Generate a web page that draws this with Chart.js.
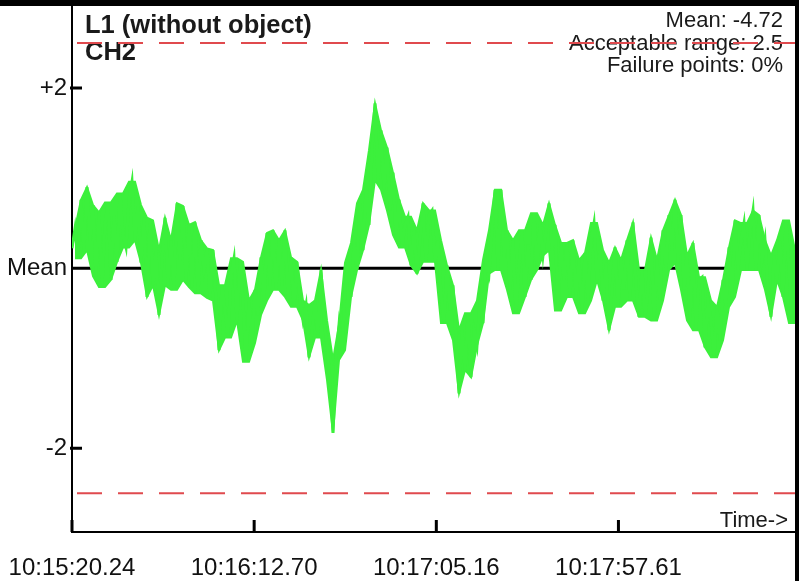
<!DOCTYPE html>
<html lang="en">

<head>
    <meta charset="UTF-8">
    <title>L1 (without object) CH2</title>
    <script src="https://cdn.jsdelivr.net/npm/chart.js"></script>
    <style>
        body { margin: 0; background: #000; width: 799px; height: 581px; overflow: hidden; }
        #wrap { position: absolute; left: 0; top: 6px; width: 795px; height: 575px; background: #fff; }
    </style>
</head>

<body>
    <div id="wrap">
        <canvas id="trendChart" width="795" height="575"></canvas>
    </div>

    <script>
        // x axis ticks (seconds from start) and their clock labels
        const timeTicks = [0, 52.46, 104.92, 157.37];
        const timeLabels = ['10:15:20.24', '10:16:12.70', '10:17:05.16', '10:17:57.61'];
        const sampleStep = 0.864;    // seconds between plotted samples
        const envelopeStart = 0.864; // first envelope sample
        const envelopeStep = 1.728;  // seconds between envelope samples
        const timeMax = 208.22;

        // y axis, deviation from mean
        const yTicks = [2, 0, -2];
        const yTickLabels = ['+2', 'Mean', '-2'];
        const meanLevel = 0;
        const upperLimit = 2.5;
        const lowerLimit = -2.5;

        const titleLines = ['L1 (without object)', 'CH2'];
        const infoLines = ['Mean: -4.72', 'Acceptable range: 2.5', 'Failure points: 0%'];

        // CH2 deviation from mean
        const deviation = [
            0.22, 0.44, 0.11, 0.76, 0.20, 0.90, 0.31, 0.70, -0.09, 0.62,
            -0.21, 0.48, 0.73, -0.13, 0.59, 0.07, 0.83, 0.37, 0.23, 0.76,
            0.96, 0.31, 0.70, 0.06, 0.56, -0.32, 0.53, -0.19, 0.20, -0.52,
            0.09, 0.56, -0.19, 0.31, -0.24, 0.72, 0.07, 0.69, -0.13, 0.48,
            -0.21, 0.51, -0.28, 0.31, -0.02, 0.22, -0.33, 0.20, -0.36, -0.91,
            -0.19, -0.47, -0.77, -0.08, 0.11, -0.58, 0.07, -0.36, -1.04, -0.36,
            -0.83, -0.24, -0.52, 0.12, -0.36, 0.39, -0.19, 0.42, -0.24, 0.31,
            -0.19, 0.42, -0.32, 0.12, -0.43, 0.07, -0.36, -0.58, -0.41, -0.99,
            -0.69, -0.36, -0.77, -0.02, -0.58, -0.86, -1.24, -1.83, -1.02, -0.63,
            -0.91, -0.24, 0.06, -0.32, 0.28, -0.02, 0.72, 0.20, 0.87, 0.48,
            1.31, 1.83, 0.98, 1.53, 0.87, 1.34, 0.64, 1.06, 0.37, 0.76,
            0.23, 0.48, 0.57, 0.03, 0.42, -0.06, 0.31, 0.72, 0.07, 0.59,
            0.64, 0.07, 0.31, -0.30, -0.61, 0.03, -0.47, -0.19, -0.80, -1.39,
            -0.69, -1.13, -0.50, -1.21, -0.69, -0.86, -0.36, -0.61, 0.09, -0.06,
            0.42, 0.87, -0.02, 0.87, 0.12, 0.42, -0.24, 0.31, -0.50, 0.03,
            0.42, -0.32, 0.26, -0.13, 0.61, -0.02, 0.48, 0.14, 0.42, 0.72,
            0.20, 0.48, -0.47, 0.28, -0.13, 0.28, -0.32, 0.31, -0.32, 0.09,
            -0.50, 0.17, -0.36, 0.31, 0.50, -0.13, 0.20, -0.36, 0.06, -0.69,
            -0.24, 0.23, -0.43, 0.09, -0.24, 0.31, -0.36, 0.51, -0.19, -0.54,
            -0.02, -0.54, -0.24, 0.34, -0.58, 0.09, -0.36, 0.42, -0.02, 0.59,
            0.20, 0.76, 0.06, 0.59, -0.24, 0.14, -0.58, 0.28, -0.69, -0.13,
            -0.10, -0.88, -0.36, -0.58, -0.99, -0.43, -0.80, -0.13, -0.43, 0.23,
            -0.32, 0.53, -0.02, 0.31, 0.50, -0.02, 0.42, 0.64, -0.02, 0.59,
            0.09, 0.31, -0.24, -0.54, 0.14, -0.13, 0.31, -0.32, 0.53, -0.02,
            -0.61, 0.20
        ];

        // top and bottom edge of the noisy band
        const bandHigh = [
            0.44, 0.76, 0.90, 0.70, 0.62, 0.73, 0.73, 0.83, 0.83, 0.96,
            0.96, 0.70, 0.56, 0.53, 0.20, 0.56, 0.31, 0.72, 0.69, 0.48,
            0.51, 0.31, 0.22, 0.20, -0.19, -0.19, 0.11, 0.11, 0.07, -0.36,
            -0.24, 0.12, 0.39, 0.42, 0.31, 0.42, 0.12, 0.07, -0.36, -0.41,
            -0.36, -0.02, -0.58, -1.02, -0.63, 0.06, 0.28, 0.72, 0.87, 1.31,
            1.83, 1.53, 1.34, 1.06, 0.76, 0.57, 0.57, 0.42, 0.72, 0.64,
            0.64, 0.31, 0.03, -0.19, -0.69, -0.50, -0.50, -0.36, 0.09, 0.42,
            0.87, 0.87, 0.42, 0.31, 0.42, 0.42, 0.61, 0.61, 0.48, 0.72,
            0.48, 0.28, 0.28, 0.31, 0.09, 0.17, 0.50, 0.50, 0.20, 0.06,
            0.23, 0.09, 0.31, 0.51, -0.02, -0.02, 0.34, 0.09, 0.42, 0.59,
            0.76, 0.59, 0.14, 0.28, -0.10, -0.10, -0.36, -0.43, -0.13, 0.23,
            0.53, 0.50, 0.50, 0.64, 0.59, 0.31, 0.14, 0.31, 0.53, 0.53,
            0.20
        ];
        const bandLow = [
            0.11, 0.11, 0.20, -0.09, -0.21, -0.21, -0.13, 0.07, 0.23, 0.23,
            0.31, 0.06, -0.32, -0.19, -0.52, -0.19, -0.24, -0.24, -0.13, -0.21,
            -0.28, -0.28, -0.33, -0.36, -0.91, -0.77, -0.77, -0.58, -1.04, -1.04,
            -0.83, -0.52, -0.36, -0.24, -0.24, -0.32, -0.43, -0.43, -0.58, -0.99,
            -0.77, -0.77, -1.24, -1.83, -1.02, -0.91, -0.32, -0.02, 0.20, 0.48,
            0.98, 0.87, 0.64, 0.37, 0.23, 0.23, 0.03, -0.06, 0.07, 0.07,
            0.07, -0.61, -0.61, -0.80, -1.39, -1.13, -1.21, -0.86, -0.61, -0.06,
            -0.02, -0.02, -0.24, -0.50, -0.50, -0.32, -0.13, -0.02, 0.14, 0.20,
            -0.47, -0.47, -0.32, -0.32, -0.50, -0.50, -0.36, -0.13, -0.36, -0.69,
            -0.43, -0.43, -0.36, -0.36, -0.54, -0.54, -0.58, -0.58, -0.36, -0.02,
            0.06, -0.24, -0.58, -0.69, -0.69, -0.88, -0.99, -0.99, -0.80, -0.43,
            -0.32, -0.02, -0.02, -0.02, -0.02, -0.24, -0.54, -0.13, -0.32, -0.61,
            -0.61
        ];

        const traceColor = '#3cf03c';
        const limitColor = '#e04a4e';
        const fontFamily = '"Liberation Sans", Arial, sans-serif';
        const hLine = y => [{ x: 0, y: y }, { x: timeMax, y: y }];
        const bandPoints = arr => arr.map((v, i) => ({ x: envelopeStart + i * envelopeStep, y: v }));

        // texts behind the limit lines, inward tick marks on top
        const overlay = {
            id: 'overlay',
            beforeDatasetsDraw(chart) {
                const ctx = chart.ctx;
                ctx.save();
                ctx.fillStyle = '#1a1a1a';
                ctx.font = 'bold 25.5px ' + fontFamily;
                ctx.textAlign = 'left';
                ctx.textBaseline = 'alphabetic';
                ctx.fillText(titleLines[0], 85, 27);
                ctx.fillText(titleLines[1], 85, 54);
                ctx.font = '22px ' + fontFamily;
                ctx.textAlign = 'right';
                infoLines.forEach((t, i) => ctx.fillText(t, 783, 21 + i * 22.5));
                ctx.fillText('Time->', 788, 521);
                ctx.restore();
            },
            afterDraw(chart) {
                const ctx = chart.ctx;
                const xs = chart.scales.x, ys = chart.scales.y;
                const area = chart.chartArea;
                ctx.save();
                ctx.strokeStyle = '#000';
                ctx.lineWidth = 3;
                ctx.beginPath();
                timeTicks.forEach(v => {
                    const px = xs.getPixelForValue(v);
                    ctx.moveTo(px, area.bottom);
                    ctx.lineTo(px, area.bottom - 12);
                });
                yTicks.filter(v => v !== meanLevel).forEach(v => {
                    const py = ys.getPixelForValue(v);
                    ctx.moveTo(area.left - 2, py);
                    ctx.lineTo(area.left + 10, py);
                });
                ctx.stroke();
                ctx.restore();
            }
        };

        const ctx = document.getElementById('trendChart').getContext('2d');
        new Chart(ctx, {
            type: 'line',
            data: {
                datasets: [{
                    label: 'CH2',
                    data: deviation.map((v, i) => ({ x: i * sampleStep, y: v })),
                    borderColor: traceColor,
                    borderWidth: 3,
                    pointRadius: 0,
                    order: 0
                }, {
                    label: 'Band high',
                    data: bandPoints(bandHigh),
                    borderColor: traceColor,
                    backgroundColor: traceColor,
                    borderWidth: 2,
                    pointRadius: 0,
                    fill: '+1',
                    order: 1
                }, {
                    label: 'Band low',
                    data: bandPoints(bandLow),
                    borderColor: traceColor,
                    borderWidth: 2,
                    pointRadius: 0,
                    order: 2
                }, {
                    label: 'Mean',
                    data: hLine(meanLevel),
                    borderColor: '#000',
                    borderWidth: 3,
                    pointRadius: 0,
                    order: 3
                }, {
                    label: 'Upper limit',
                    data: hLine(upperLimit),
                    borderColor: limitColor,
                    borderWidth: 2,
                    borderDash: [25, 16],
                    borderDashOffset: 36,
                    pointRadius: 0,
                    order: 4
                }, {
                    label: 'Lower limit',
                    data: hLine(lowerLimit),
                    borderColor: limitColor,
                    borderWidth: 2,
                    borderDash: [25, 16],
                    borderDashOffset: 36,
                    pointRadius: 0,
                    order: 5
                }]
            },
            options: {
                responsive: false,
                animation: false,
                devicePixelRatio: 1,
                layout: { padding: 0 },
                plugins: {
                    legend: { display: false },
                    tooltip: { enabled: false }
                },
                scales: {
                    x: {
                        type: 'linear',
                        min: 0,
                        max: timeMax,
                        afterBuildTicks: s => { s.ticks = timeTicks.map(v => ({ value: v })); },
                        afterFit: s => { s.height = 49; s.paddingLeft = 0; s.paddingRight = 0; },
                        grid: { display: false, drawTicks: false },
                        border: { display: true, color: '#000', width: 2 },
                        ticks: {
                            autoSkip: false,
                            maxRotation: 0,
                            padding: 22,
                            color: '#111',
                            font: { family: fontFamily, size: 24 },
                            callback: (v, i) => timeLabels[i]
                        }
                    },
                    y: {
                        min: -2.93,
                        max: 2.911,
                        afterBuildTicks: s => { s.ticks = yTicks.map(v => ({ value: v })); },
                        afterFit: s => { s.width = 72; s.paddingTop = 0; s.paddingBottom = 0; },
                        grid: { display: false, drawTicks: false },
                        border: { display: true, color: '#000', width: 2 },
                        ticks: {
                            padding: 5,
                            color: '#111',
                            font: { family: fontFamily, size: 24 },
                            callback: (v, i) => yTickLabels[i]
                        }
                    }
                }
            },
            plugins: [overlay]
        });
    </script>
</body>

</html>
